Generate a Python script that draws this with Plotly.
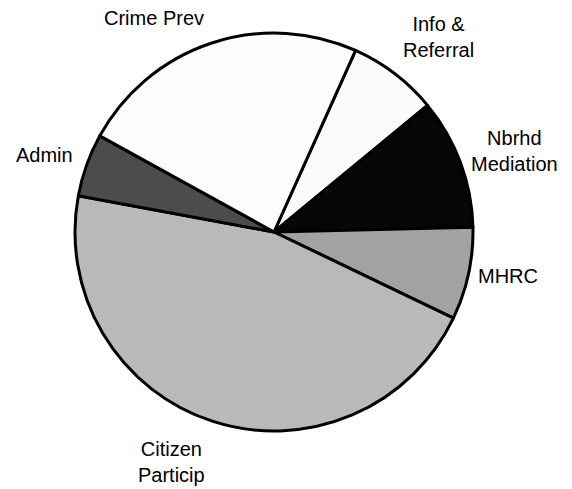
import plotly.graph_objects as go

# Data (percent shares, clockwise from the Info & Referral slice)
labels = ["Info &<br>Referral", "Nbrhd<br>Mediation", "MHRC", "Citizen<br>Particip", "Admin", "Crime Prev"]
values = [7.3, 10.6, 7.5, 45.8, 5.1, 23.7]

# Styles / layout (kept separate from data)
colors = ["#fbfbfb", "#060606", "#a2a2a2", "#b9b9b9", "#4c4c4c", "#fcfcfc"]
label_pos = [(438, 37), (514, 151), (508, 276), (171, 462), (44, 155), (154, 18)]

W, H = 572, 489
cx, cy, r = 274, 232, 199

fig = go.Figure(go.Pie(
    labels=labels,
    values=values,
    sort=False,
    direction="clockwise",
    rotation=24.2,
    marker=dict(colors=colors, line=dict(color="black", width=3)),
    textinfo="none",
    hoverinfo="label+percent",
    showlegend=False,
    domain=dict(x=[(cx - r) / W, (cx + r) / W], y=[(H - cy - r) / H, (H - cy + r) / H]),
))

annotations = []
for lab, (x, y) in zip(labels, label_pos):
    annotations.append(dict(
        text=lab, x=x / W, y=1 - y / H, xref="paper", yref="paper",
        showarrow=False, xanchor="center", yanchor="middle",
        font=dict(family="Liberation Sans, Arial, sans-serif", size=20, color="#000"),
        align="center",
    ))

fig.update_layout(
    width=W, height=H,
    margin=dict(l=0, r=0, t=0, b=0),
    paper_bgcolor="white", plot_bgcolor="white",
    annotations=annotations,
)

fig.write_html("out.html")
